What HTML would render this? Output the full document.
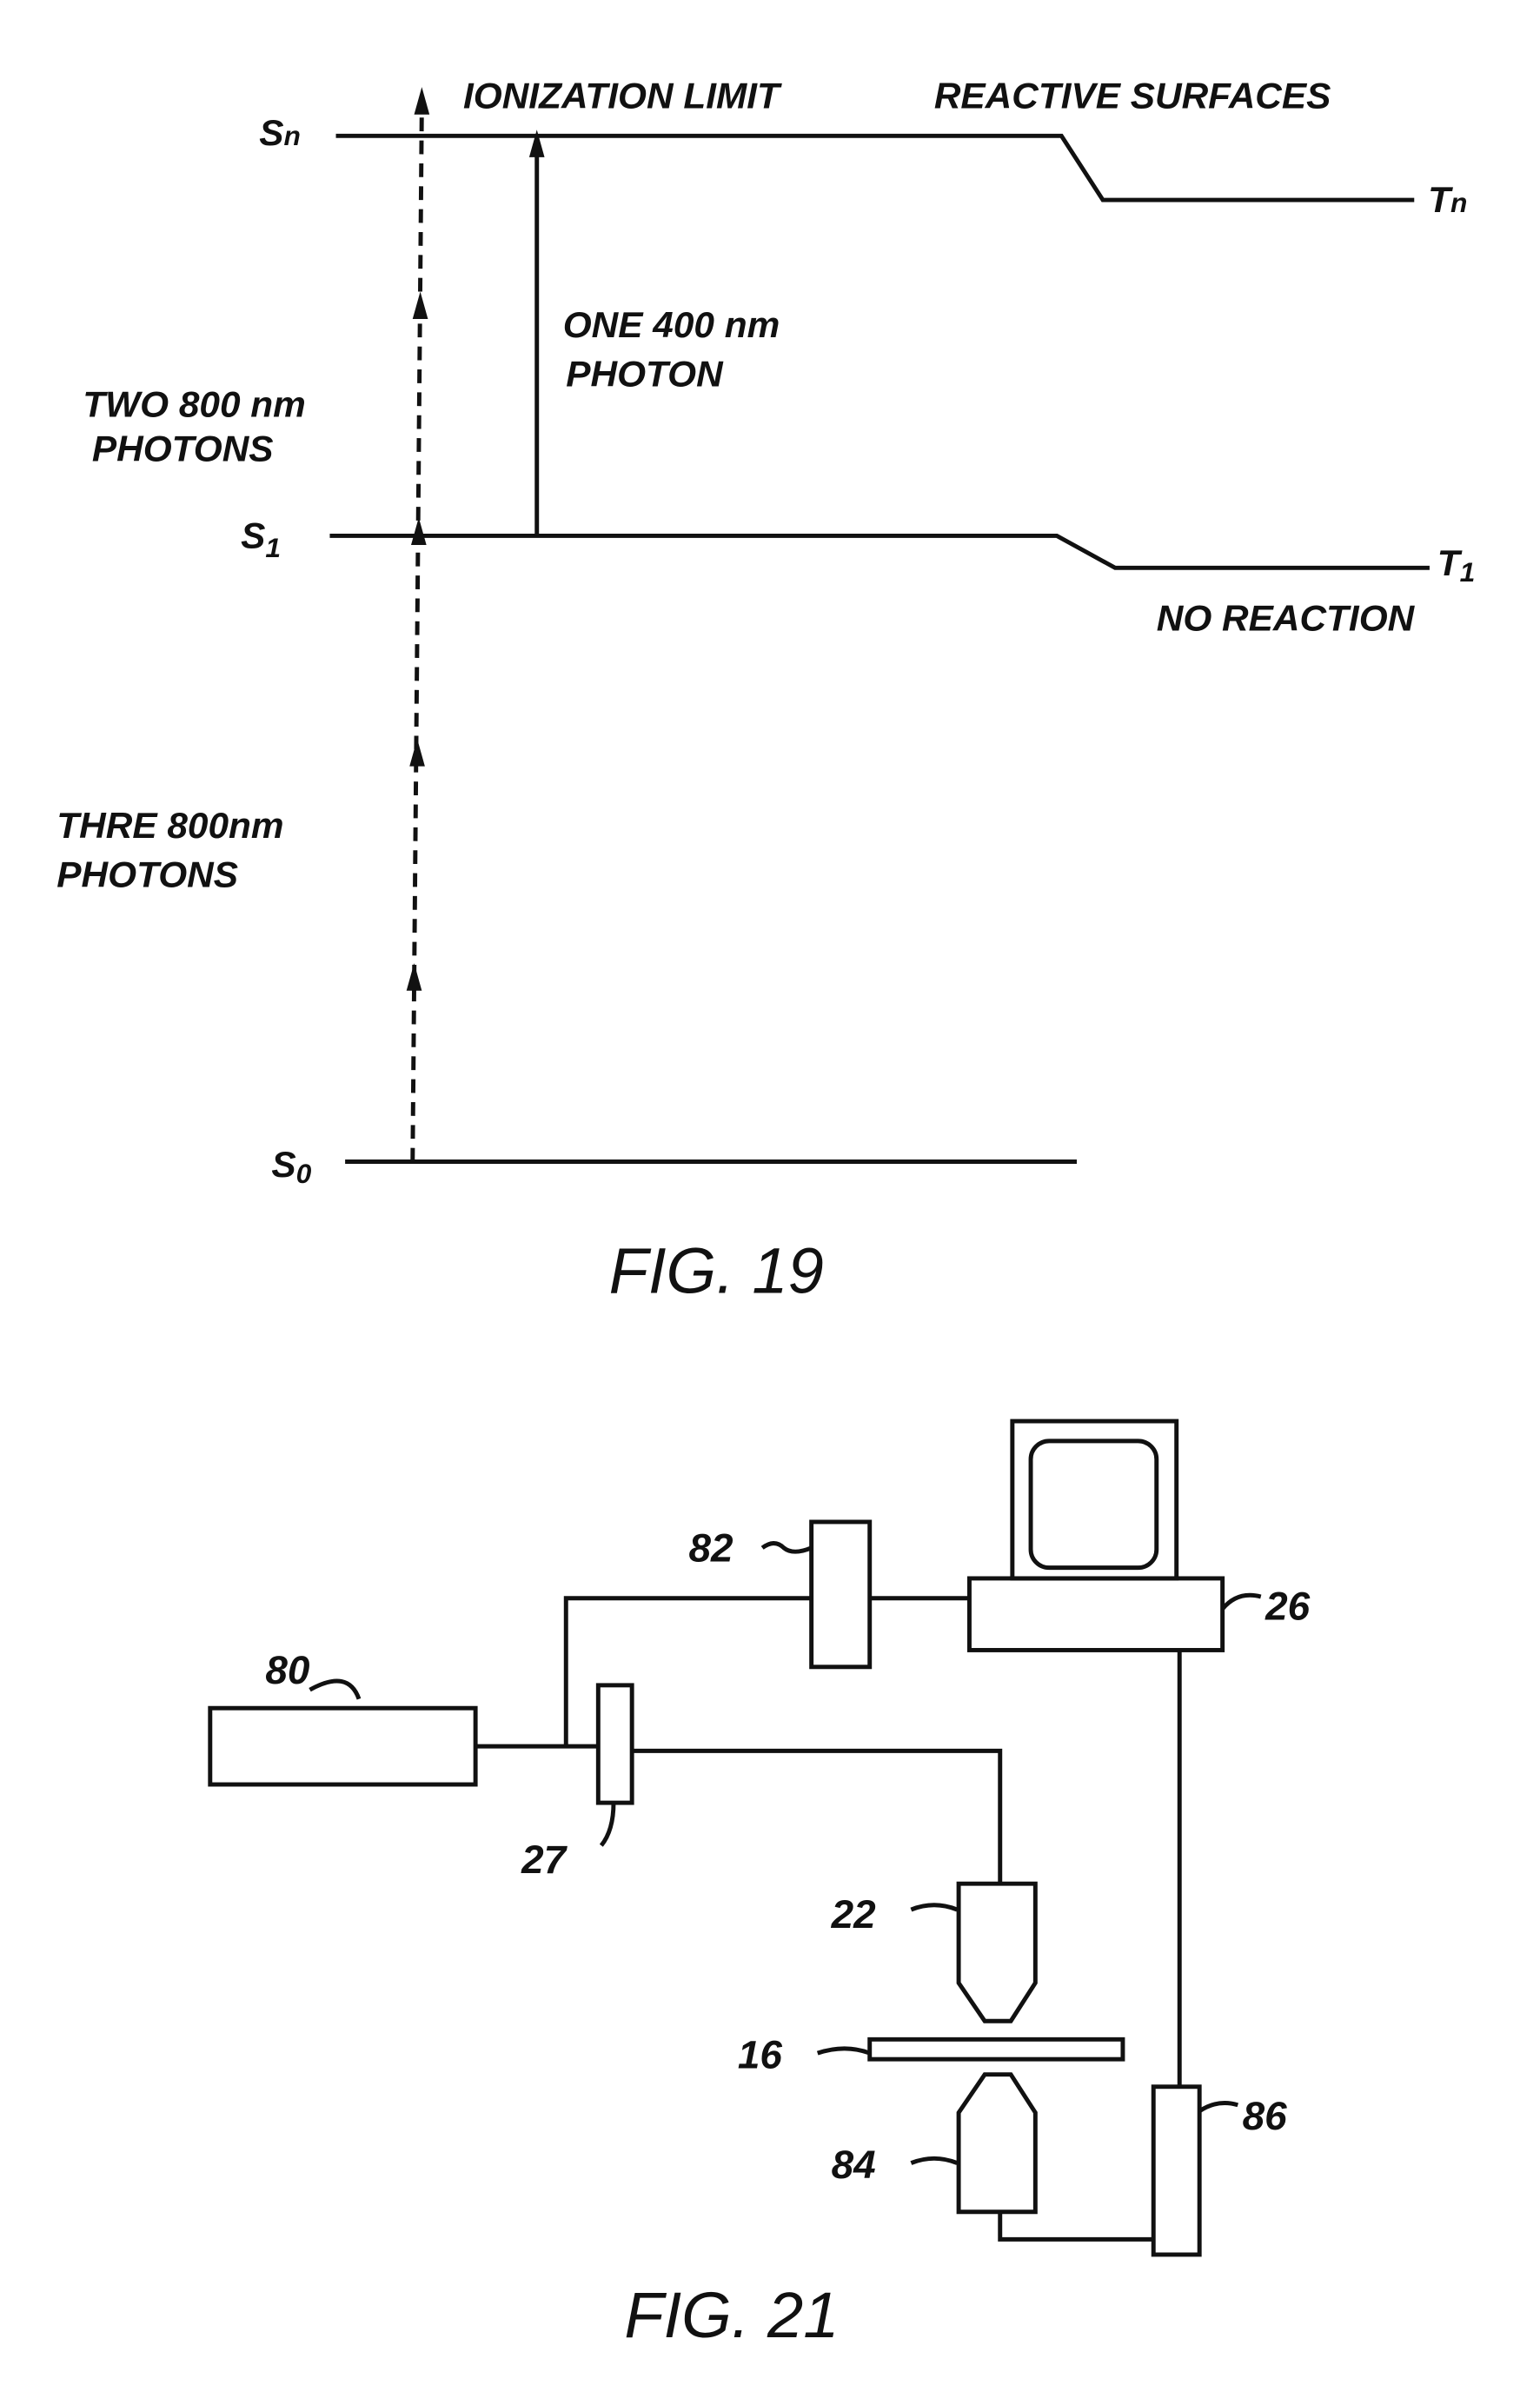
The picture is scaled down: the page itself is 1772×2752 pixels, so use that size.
<!DOCTYPE html>
<html><head><meta charset="utf-8"><style>
html,body{margin:0;padding:0;background:#fff;}
svg{display:block;}
text{font-family:"Liberation Sans",sans-serif;font-style:italic;font-weight:bold;fill:#111;}
</style></head><body>
<svg width="1772" height="2752" viewBox="3 1 1004 1567" preserveAspectRatio="none" xmlns="http://www.w3.org/2000/svg">
<g stroke="#111" stroke-width="2.8" fill="none">
<polyline points="222,90 695,90 722,132 925,132"/>
<polyline points="218,352 692,352 730,373 935,373"/>
<line x1="228" y1="762" x2="705" y2="762"/>
<line x1="272" y1="762" x2="278" y2="70" stroke-dasharray="9,6"/>
<line x1="353" y1="352" x2="353" y2="100"/>
</g>
<g fill="#111">
<polygon points="278,58 273,76 283,76"/>
<polygon points="277,192 272,210 282,210"/>
<polygon points="276,340 271,358 281,358"/>
<polygon points="275,485 270,503 280,503"/>
<polygon points="273,632 268,650 278,650"/>
<polygon points="353,86 348,104 358,104"/>
</g>
<g font-size="24">
<text x="172" y="96">S<tspan font-size="18">n</tspan></text>
<text x="160" y="360">S<tspan font-size="18" dy="6">1</tspan></text>
<text x="180" y="772">S<tspan font-size="18" dy="4">0</tspan></text>
<text x="934" y="140">T<tspan font-size="18">n</tspan></text>
<text x="940" y="378">T<tspan font-size="18" dy="4">1</tspan></text>
<text x="305" y="72">IONIZATION LIMIT</text>
<text x="612" y="72">REACTIVE SURFACES</text>
<text x="370" y="222">ONE  400 nm</text>
<text x="372" y="254">PHOTON</text>
<text x="57" y="274">TWO 800 nm</text>
<text x="63" y="303">PHOTONS</text>
<text x="757" y="414">NO REACTION</text>
<text x="40" y="550">THRE 800nm</text>
<text x="40" y="582">PHOTONS</text>
</g>
<text x="400" y="848" font-size="42" style="font-weight:normal">FIG.  19</text>

<g stroke="#111" stroke-width="2.8" fill="none">
<rect x="663" y="932" width="107" height="103"/>
<rect x="675" y="945" width="82" height="83" rx="12"/>
<rect x="635" y="1035" width="165" height="47"/>
<rect x="532" y="998" width="38" height="95"/>
<line x1="570" y1="1048" x2="635" y2="1048"/>
<polyline points="532,1048 372,1048 372,1145"/>
<rect x="140" y="1120" width="173" height="50"/>
<line x1="313" y1="1145" x2="393" y2="1145"/>
<rect x="393" y="1105" width="22" height="77"/>
<polyline points="415,1148 655,1148 655,1235"/>
<polygon points="628,1235 678,1235 678,1300 662,1325 645,1325 628,1300"/>
<rect x="570" y="1337" width="165" height="13"/>
<polygon points="645,1360 662,1360 678,1385 678,1450 628,1450 628,1385"/>
<polyline points="655,1450 655,1468 755,1468"/>
<rect x="755" y="1368" width="30" height="110"/>
<line x1="772" y1="1082" x2="772" y2="1368"/>
<path d="M800,1055 q10,-12 25,-8"/>
<path d="M500,1015 q8,-6 14,0 q6,5 18,0"/>
<path d="M205,1108 q25,-14 32,6"/>
<path d="M395,1210 q8,-10 8,-28"/>
<path d="M597,1252 q15,-6 30,0"/>
<path d="M536,1346 q18,-6 34,0"/>
<path d="M597,1418 q15,-6 30,0"/>
<path d="M785,1384 q12,-8 25,-4"/>
</g>
<g font-size="26">
<text x="828" y="1062">26</text>
<text x="452" y="1024">82</text>
<text x="176" y="1104">80</text>
<text x="343" y="1228">27</text>
<text x="545" y="1264">22</text>
<text x="484" y="1356">16</text>
<text x="545" y="1428">84</text>
<text x="813" y="1396">86</text>
</g>
<text x="410" y="1532" font-size="42" style="font-weight:normal">FIG.  21</text>
</svg>
</body></html>
